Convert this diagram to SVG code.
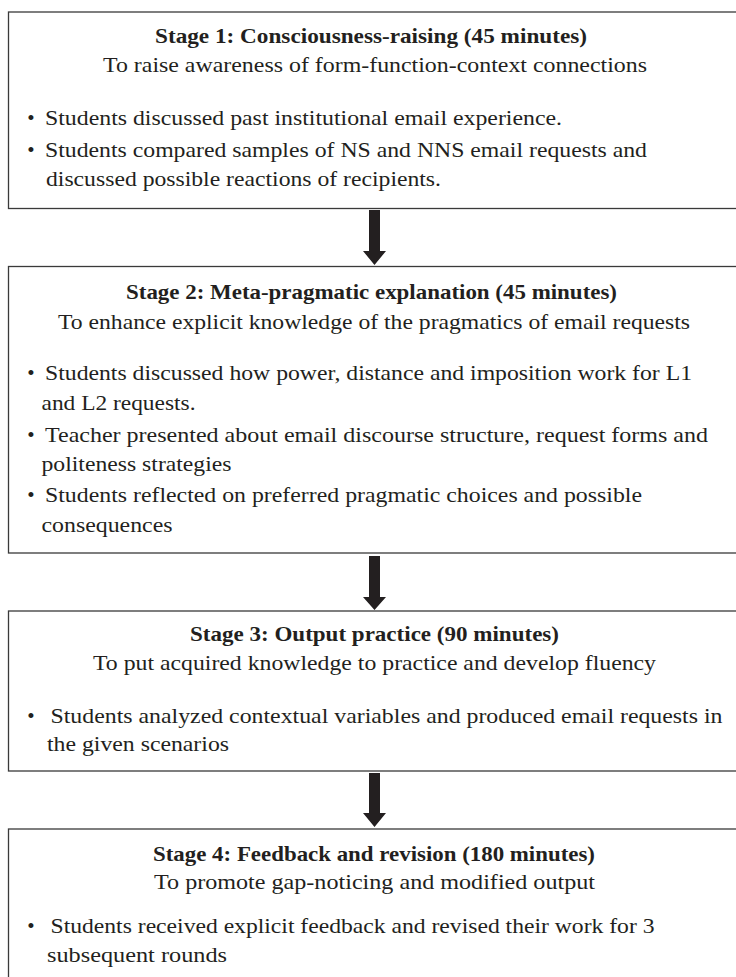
<svg xmlns="http://www.w3.org/2000/svg" width="736" height="977" viewBox="0 0 736 977">
<style>
  .box { fill: #ffffff; stroke: #3a3a3a; stroke-width: 1.3; }
  .t { font-family: "Liberation Serif", "Times New Roman", serif; font-size: 21px; fill: #231f20; }
  .title { font-weight: bold; }
  .dot { text-anchor: middle; }
  .arrow { fill: #231f20; stroke: none; }
</style>
<rect x="0" y="0" width="736" height="977" fill="#ffffff"/>

<g id="stage1">
  <rect class="box" x="8.5" y="12" width="740" height="196.5"/>
  <text class="t title" x="155" y="43" textLength="432" lengthAdjust="spacingAndGlyphs">Stage 1: Consciousness-raising (45 minutes)</text>
  <text class="t" x="103" y="72" textLength="544" lengthAdjust="spacingAndGlyphs">To raise awareness of form-function-context connections</text>
  <text class="t dot" x="31" y="125">•</text>
  <text class="t" x="45" y="125" textLength="517" lengthAdjust="spacingAndGlyphs">Students discussed past institutional email experience.</text>
  <text class="t dot" x="31" y="156.5">•</text>
  <text class="t" x="45" y="156.5" textLength="602" lengthAdjust="spacingAndGlyphs">Students compared samples of NS and NNS email requests and</text>
  <text class="t" x="46" y="185.5" textLength="395" lengthAdjust="spacingAndGlyphs">discussed possible reactions of recipients.</text>
</g>

<g id="stage2">
  <rect class="box" x="8.5" y="266.5" width="740" height="286.5"/>
  <text class="t title" x="126" y="299" textLength="491" lengthAdjust="spacingAndGlyphs">Stage 2: Meta-pragmatic explanation (45 minutes)</text>
  <text class="t" x="58" y="328.5" textLength="632" lengthAdjust="spacingAndGlyphs">To enhance explicit knowledge of the pragmatics of email requests</text>
  <text class="t dot" x="31" y="380">•</text>
  <text class="t" x="45" y="380" textLength="647" lengthAdjust="spacingAndGlyphs">Students discussed how power, distance and imposition work for L1</text>
  <text class="t" x="41.5" y="410" textLength="154" lengthAdjust="spacingAndGlyphs">and L2 requests.</text>
  <text class="t dot" x="31" y="442">•</text>
  <text class="t" x="45" y="442" textLength="663" lengthAdjust="spacingAndGlyphs">Teacher presented about email discourse structure, request forms and</text>
  <text class="t" x="41.5" y="471" textLength="190" lengthAdjust="spacingAndGlyphs">politeness strategies</text>
  <text class="t dot" x="31" y="502">•</text>
  <text class="t" x="45" y="502" textLength="597" lengthAdjust="spacingAndGlyphs">Students reflected on preferred pragmatic choices and possible</text>
  <text class="t" x="41.5" y="532" textLength="131" lengthAdjust="spacingAndGlyphs">consequences</text>
</g>

<g id="stage3">
  <rect class="box" x="8.5" y="611" width="740" height="160"/>
  <text class="t title" x="190" y="641" textLength="369" lengthAdjust="spacingAndGlyphs">Stage 3: Output practice (90 minutes)</text>
  <text class="t" x="93" y="670" textLength="563" lengthAdjust="spacingAndGlyphs">To put acquired knowledge to practice and develop fluency</text>
  <text class="t dot" x="31" y="723">•</text>
  <text class="t" x="50.5" y="723" textLength="672" lengthAdjust="spacingAndGlyphs">Students analyzed contextual variables and produced email requests in</text>
  <text class="t" x="47" y="751" textLength="182" lengthAdjust="spacingAndGlyphs">the given scenarios</text>
</g>

<g id="stage4">
  <rect class="box" x="8.5" y="829" width="740" height="170"/>
  <text class="t title" x="153" y="861" textLength="442" lengthAdjust="spacingAndGlyphs">Stage 4: Feedback and revision (180 minutes)</text>
  <text class="t" x="154" y="889" textLength="441" lengthAdjust="spacingAndGlyphs">To promote gap-noticing and modified output</text>
  <text class="t dot" x="31" y="933">•</text>
  <text class="t" x="50.5" y="933" textLength="604" lengthAdjust="spacingAndGlyphs">Students received explicit feedback and revised their work for 3</text>
  <text class="t" x="47" y="962" textLength="180" lengthAdjust="spacingAndGlyphs">subsequent rounds</text>
</g>

<g id="connectors">
  <polygon class="arrow" points="369,210 380,210 380,251 386,251 374.5,265 363,251 369,251"/>
  <polygon class="arrow" points="369,556 380,556 380,597 386,597 374.5,610 363,597 369,597"/>
  <polygon class="arrow" points="369,773 380,773 380,813 386,813 374.5,827 363,813 369,813"/>
</g>
</svg>
